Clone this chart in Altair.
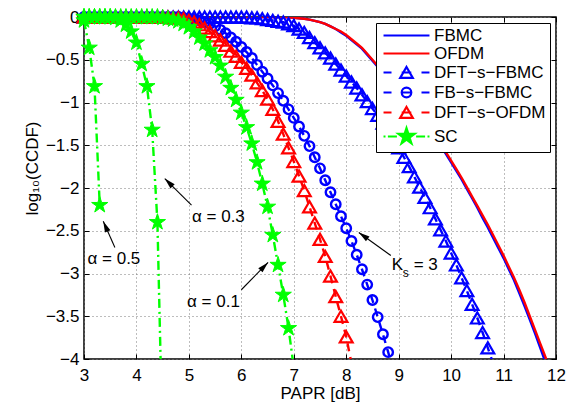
import math
import altair as alt
import pandas as pd

FONT = "Liberation Sans"

# PAPR grid [dB]
papr = [3.0, 3.1, 3.2, 3.3, 3.4, 3.5, 3.6, 3.7, 3.8, 3.9,
        4.0, 4.1, 4.2, 4.3, 4.4, 4.5, 4.6, 4.7, 4.8, 4.9,
        5.0, 5.1, 5.2, 5.3, 5.4, 5.5, 5.6, 5.7, 5.8, 5.9,
        6.0, 6.1, 6.2, 6.3, 6.4, 6.5, 6.6, 6.7, 6.8, 6.9,
        7.0, 7.1, 7.2, 7.3, 7.4, 7.5, 7.6, 7.7, 7.8, 7.9,
        8.0, 8.1, 8.2, 8.3, 8.4, 8.5, 8.6, 8.7, 8.8, 8.9,
        9.0, 9.1, 9.2, 9.3, 9.4, 9.5, 9.6, 9.7, 9.8, 9.9,
        10.0, 10.1, 10.2, 10.3, 10.4, 10.5, 10.6, 10.7, 10.8, 10.9,
        11.0, 11.1, 11.2, 11.3, 11.4, 11.5, 11.6, 11.7, 11.8, 11.9,
        12.0]

# log10(CCDF) values, aligned with papr
fbmc = [0, 0, 0, 0, 0, 0, 0, 0, 0, 0,
        0, 0, 0, 0, 0, 0, 0, 0, 0, 0,
        0, 0, 0, 0, 0, 0, 0, 0, 0, 0,
        0, 0, 0, 0, 0, 0, 0, 0, 0, -0.005,
        -0.01, -0.015, -0.02, -0.03, -0.045, -0.06, -0.08, -0.11, -0.14, -0.18,
        -0.22, -0.27, -0.32, -0.37, -0.44, -0.51, -0.58, -0.65, -0.72, -0.79,
        -0.86, -0.94, -1.01, -1.09, -1.17, -1.25, -1.34, -1.42, -1.51, -1.6,
        -1.7, -1.8, -1.9, -2.01, -2.12, -2.23, -2.35, -2.46, -2.58, -2.7,
        -2.82, -2.95, -3.08, -3.23, -3.38, -3.54, -3.7, -3.87, -4.04, -4.21]

ofdm = [0, 0, 0, 0, 0, 0, 0, 0, 0, 0,
        0, 0, 0, 0, 0, 0, 0, 0, 0, 0,
        0, 0, 0, 0, 0, 0, 0, 0, 0, 0,
        0, 0, 0, 0, 0, 0, 0, 0, 0, -0.005,
        -0.01, -0.015, -0.02, -0.03, -0.045, -0.06, -0.08, -0.11, -0.14, -0.17,
        -0.21, -0.26, -0.31, -0.36, -0.43, -0.5, -0.57, -0.64, -0.71, -0.78,
        -0.85, -0.93, -1.0, -1.08, -1.16, -1.24, -1.32, -1.4, -1.49, -1.58,
        -1.68, -1.78, -1.88, -1.99, -2.1, -2.21, -2.32, -2.43, -2.55, -2.67,
        -2.79, -2.92, -3.05, -3.19, -3.34, -3.5, -3.66, -3.82, -3.98, -4.15]

dft_s_fbmc = [0, 0, 0, 0, 0, 0, 0, 0, 0, 0,
              0, 0, 0, 0, 0, 0, 0, 0, 0, 0,
              0, 0, 0, 0, 0, 0, 0, 0, 0, 0,
              0, 0, -0.01, -0.01, -0.02, -0.03, -0.04, -0.05, -0.06, -0.08,
              -0.1, -0.14, -0.18, -0.24, -0.3, -0.36, -0.42, -0.48, -0.55, -0.62,
              -0.69, -0.76, -0.83, -0.91, -0.99, -1.07, -1.15, -1.24, -1.33, -1.43,
              -1.53, -1.64, -1.75, -1.87, -1.99, -2.11, -2.23, -2.36, -2.49, -2.62,
              -2.76, -2.9, -3.05, -3.2, -3.36, -3.52, -3.69, -3.87, -4.05]

fb_s_fbmc = [0, 0, 0, 0, 0, 0, 0, 0, 0, 0,
             0, 0, 0, 0, 0, 0, 0, 0, 0, -0.01,
             -0.02, -0.03, -0.04, -0.06, -0.08, -0.11, -0.15, -0.19, -0.24, -0.29,
             -0.35, -0.41, -0.48, -0.56, -0.64, -0.72, -0.8, -0.89, -0.98, -1.08,
             -1.18, -1.28, -1.39, -1.51, -1.64, -1.77, -1.91, -2.05, -2.19, -2.33,
             -2.47, -2.62, -2.78, -2.95, -3.13, -3.31, -3.51, -3.71, -3.92, -4.14]

dft_s_ofdm = [0, 0, 0, 0, 0, 0, 0, 0, 0, 0,
              0, 0, 0, 0, 0, 0, 0, -0.01, -0.01, -0.02,
              -0.04, -0.06, -0.09, -0.13, -0.17, -0.22, -0.27, -0.33, -0.4, -0.46,
              -0.53, -0.6, -0.68, -0.77, -0.86, -0.96, -1.08, -1.22, -1.37, -1.53,
              -1.69, -1.86, -2.03, -2.22, -2.41, -2.6, -2.8, -3.03, -3.27, -3.5,
              -3.74, -4.05]

sc_a01 = [0, 0, 0, 0, 0, 0, 0, 0, 0, 0,
          0, 0, 0, 0, 0, -0.01, -0.02, -0.03, -0.05, -0.08,
          -0.12, -0.17, -0.24, -0.31, -0.39, -0.47, -0.57, -0.7, -0.83, -0.97,
          -1.12, -1.29, -1.48, -1.7, -1.95, -2.22, -2.55, -2.9, -3.25, -3.64,
          -4.1]

sc_a03 = [0, 0, 0, 0, 0, 0, -0.01, -0.04, -0.09, -0.17,
          -0.3, -0.55, -0.81, -1.32, -2.4, -5.05]

sc_a05 = [-0.04, -0.36, -0.81, -2.2]

series_names = ["FBMC", "OFDM", "DFT−s−FBMC", "FB−s−FBMC", "DFT−s−OFDM", "SC"]
BLUE, RED, GREEN = "#0000ff", "#ff0000", "#00ff00"
series_colors = [BLUE, RED, BLUE, BLUE, RED, GREEN]
series_fills = ["transparent", "transparent", "transparent", "transparent", "transparent", GREEN]

curves = [
    ("FBMC", "fbmc", fbmc),
    ("OFDM", "ofdm", ofdm),
    ("DFT−s−FBMC", "dftsfbmc", dft_s_fbmc),
    ("FB−s−FBMC", "fbsfbmc", fb_s_fbmc),
    ("DFT−s−OFDM", "dftsofdm", dft_s_ofdm),
    ("SC", "sc01", sc_a01),
    ("SC", "sc03", sc_a03),
    ("SC", "sc05", sc_a05),
]
rows = []
for name, cid, vals in curves:
    for xv, yv in zip(papr, vals):
        rows.append({"series": name, "curve": cid, "x": xv, "y": yv})
df = pd.DataFrame(rows)

# annotation texts / arrows (data coordinates)
alpha_text = ["α = 0.5", "α = 0.3", "α = 0.1"]
alpha_x = [3.57, 5.563, 5.468]
alpha_y = [-2.825, -2.339, -3.333]
tail_x = [3.589, 5.05, 6.0, 8.85]
tail_y = [-2.697, -2.2, -3.19, -2.79]
head_x = [3.367, 4.54, 6.51, 8.24]
head_y = [-2.39, -1.89, -2.87, -2.52]
ks_x, ks_y = [8.867], [-2.904]

W, H = 472, 342
XD, YD = [3, 12], [-4, 0]
xticks = [3, 4, 5, 6, 7, 8, 9, 10, 11, 12]
yticks = [-4, -3.5, -3, -2.5, -2, -1.5, -1, -0.5, 0]

STAR = ("M0,-1L0.2245,-0.309L0.951,-0.309L0.363,0.118L0.588,0.809L0,0.382"
        "L-0.588,0.809L-0.363,0.118L-0.951,-0.309L-0.2245,-0.309Z")
ARROW = "M0,0L0.6,2.2L-0.6,2.2Z"

leg_paths = [
    "M-3.83,0H3.83",
    "M-3.83,0H3.83",
    "M-3.83,0H-2.5M-0.8,0H0.8M2.5,0H3.83M0,-0.91L1.05,0.91L-1.05,0.91Z",
    "M-3.83,0H-2.5M-0.8,0H0.8M2.5,0H3.83M0.8,0A0.8,0.8,0,1,1,-0.8,0A0.8,0.8,0,1,1,0.8,0Z",
    "M-3.83,0H-2.5M-0.8,0H0.8M2.5,0H3.83M0,-0.91L1.05,0.91L-1.05,0.91Z",
    "M-3.83,0H-3.5M-3.1,0H-1.6M1.6,0H3.1M3.5,0H3.83M0,-1.4L0.314,-0.433L1.331,-0.433"
    "L0.508,0.165L0.823,1.133L0,0.535L-0.823,1.133L-0.508,0.165L-1.331,-0.433L-0.314,-0.433Z",
]

xs = alt.Scale(domain=XD, nice=False, zero=False)
ys = alt.Scale(domain=YD, nice=False, zero=False)

common_axis = dict(
    grid=True, gridColor="#7a7a7a", gridDash=[1, 3], gridWidth=1,
    domain=False, ticks=True, tickSize=5, tickColor="black", tickWidth=1, offset=-5,
    labelFont=FONT, labelFontSize=17, labelColor="black", labelFlush=False,
    titleFont=FONT, titleFontSize=17, titleFontWeight="normal", titleColor="black",
)
x_axis = alt.Axis(title="PAPR [dB]", values=xticks, format="d", labelPadding=8,
                  titlePadding=2, **common_axis)
y_axis = alt.Axis(title="log₁₀(CCDF)", values=yticks, format=".1~f", labelPadding=5,
                  titleAngle=270, titleX=-57, titleY=151, titleBaseline="middle",
                  titleAlign="center", **common_axis)

# mirrored inward ticks on top/right
tick_axis = dict(labels=False, title=None, grid=False, domain=False, ticks=True, tickSize=5,
                 tickColor="black", tickWidth=1, offset=-5)
x_axis_top = alt.Axis(orient="top", values=xticks, **tick_axis)
y_axis_right = alt.Axis(orient="right", values=yticks, **tick_axis)


def X(f):
    return alt.X(f, type="quantitative", scale=xs, axis=x_axis)


def Y(f):
    return alt.Y(f, type="quantitative", scale=ys, axis=y_axis)


styles = {
    "FBMC": dict(color=BLUE, dash=None, marker=None),
    "OFDM": dict(color=RED, dash=None, marker=None),
    "DFT−s−FBMC": dict(color=BLUE, dash=[8, 6], marker="triangle-up"),
    "FB−s−FBMC": dict(color=BLUE, dash=[8, 6], marker="circle"),
    "DFT−s−OFDM": dict(color=RED, dash=[8, 6], marker="triangle-up"),
    "SC": dict(color=GREEN, dash=[9, 4, 2, 4], marker="star"),
}

layers = []
for name in series_names:
    st = styles[name]
    sub = df[df["series"] == name]
    kw = dict(color=st["color"], strokeWidth=2.4, clip=True)
    if st["dash"]:
        kw["strokeDash"] = st["dash"]
    layers.append(alt.Chart(sub).mark_line(**kw).encode(
        x=X("x"), y=Y("y"), detail="curve:N"))
    if st["marker"]:
        pts = sub[sub["y"] >= -4]
        if st["marker"] == "star":
            mk = alt.Chart(pts).mark_point(shape=STAR, size=289, filled=True, color=GREEN,
                                           stroke=GREEN, strokeWidth=1, opacity=1)
        elif st["marker"] == "circle":
            mk = alt.Chart(pts).mark_point(shape="circle", size=90, filled=False,
                                           color=st["color"], strokeWidth=2.4, opacity=1)
        else:
            mk = alt.Chart(pts).mark_point(shape="triangle-up", size=165, filled=False,
                                           color=st["color"], strokeWidth=2.2, opacity=1)
        layers.append(mk.encode(x=X("x"), y=Y("y")))

# arrows
px_x = W / (XD[1] - XD[0])
px_y = H / (YD[1] - YD[0])
angles = []
for tx, ty, hx, hy in zip(tail_x, tail_y, head_x, head_y):
    dx = (hx - tx) * px_x
    dy = -(hy - ty) * px_y
    angles.append(math.degrees(math.atan2(dx, -dy)) % 360)
arrows = pd.DataFrame({"tx": tail_x, "ty": tail_y, "hx": head_x, "hy": head_y, "ang": angles})

layers.append(alt.Chart(arrows).mark_rule(color="black", strokeWidth=1.1).encode(
    x=X("tx"), y=Y("ty"), x2="hx", y2="hy"))
layers.append(alt.Chart(arrows).mark_point(shape=ARROW, size=100, filled=True, color="black",
                                           opacity=1, strokeWidth=0).encode(
    x=X("hx"), y=Y("hy"), angle=alt.Angle("ang:Q", scale=None)))

alpha_df = pd.DataFrame({"t": alpha_text, "x": alpha_x, "y": alpha_y})
layers.append(alt.Chart(alpha_df).mark_text(font=FONT, fontSize=17, color="black",
                                            align="center", baseline="middle").encode(
    x=X("x"), y=Y("y"), text="t:N"))

ks_df = pd.DataFrame({"x": ks_x, "y": ks_y})
layers.append(alt.Chart(ks_df).mark_text(font=FONT, fontSize=17, color="black", align="left",
                                         baseline="middle", text="K").encode(x=X("x"), y=Y("y")))
layers.append(alt.Chart(ks_df).mark_text(font=FONT, fontSize=12, color="black", align="left",
                                         baseline="middle", text="s", dx=11, dy=8).encode(x=X("x"), y=Y("y")))
layers.append(alt.Chart(ks_df).mark_text(font=FONT, fontSize=17, color="black", align="left",
                                         baseline="middle", text="= 3", dx=22).encode(x=X("x"), y=Y("y")))

main = alt.layer(*layers)

# legend (drawn from scales only) + top/right inward ticks
leg_df = pd.DataFrame({"series": series_names})
legend_layer = alt.Chart(leg_df).transform_filter("false").mark_point(
    size=144, opacity=1, strokeWidth=2.2).encode(
    x=alt.X("lx:Q", scale=xs, axis=x_axis_top),
    y=alt.Y("ly:Q", scale=ys, axis=y_axis_right),
    shape=alt.Shape("series:N", scale=alt.Scale(domain=series_names, range=leg_paths),
                    legend=alt.Legend(title=None)),
    stroke=alt.Stroke("series:N", scale=alt.Scale(domain=series_names, range=series_colors),
                      legend=alt.Legend(title=None)),
    fill=alt.Fill("series:N", scale=alt.Scale(domain=series_names, range=series_fills),
                  legend=alt.Legend(title=None)),
)

chart = alt.layer(main, legend_layer).resolve_axis(x="independent", y="independent").properties(
    width=W, height=H,
    autosize=alt.AutoSizeParams(type="none"),
    padding={"left": 76, "top": 9, "right": 10, "bottom": 45},
    background="white",
).configure_view(stroke="black", strokeWidth=1.5).configure_legend(
    orient="top-right", offset=6, fillColor="white", strokeColor="black", strokeWidth=1,
    padding=4, labelFont=FONT, labelFontSize=17, labelColor="black", labelLimit=400,
    rowPadding=0, symbolSize=144, symbolStrokeWidth=2.2, symbolOffset=18, labelOffset=19,
    cornerRadius=0,
)

chart.save("out.html", embed_options={"renderer": "svg", "actions": False})
